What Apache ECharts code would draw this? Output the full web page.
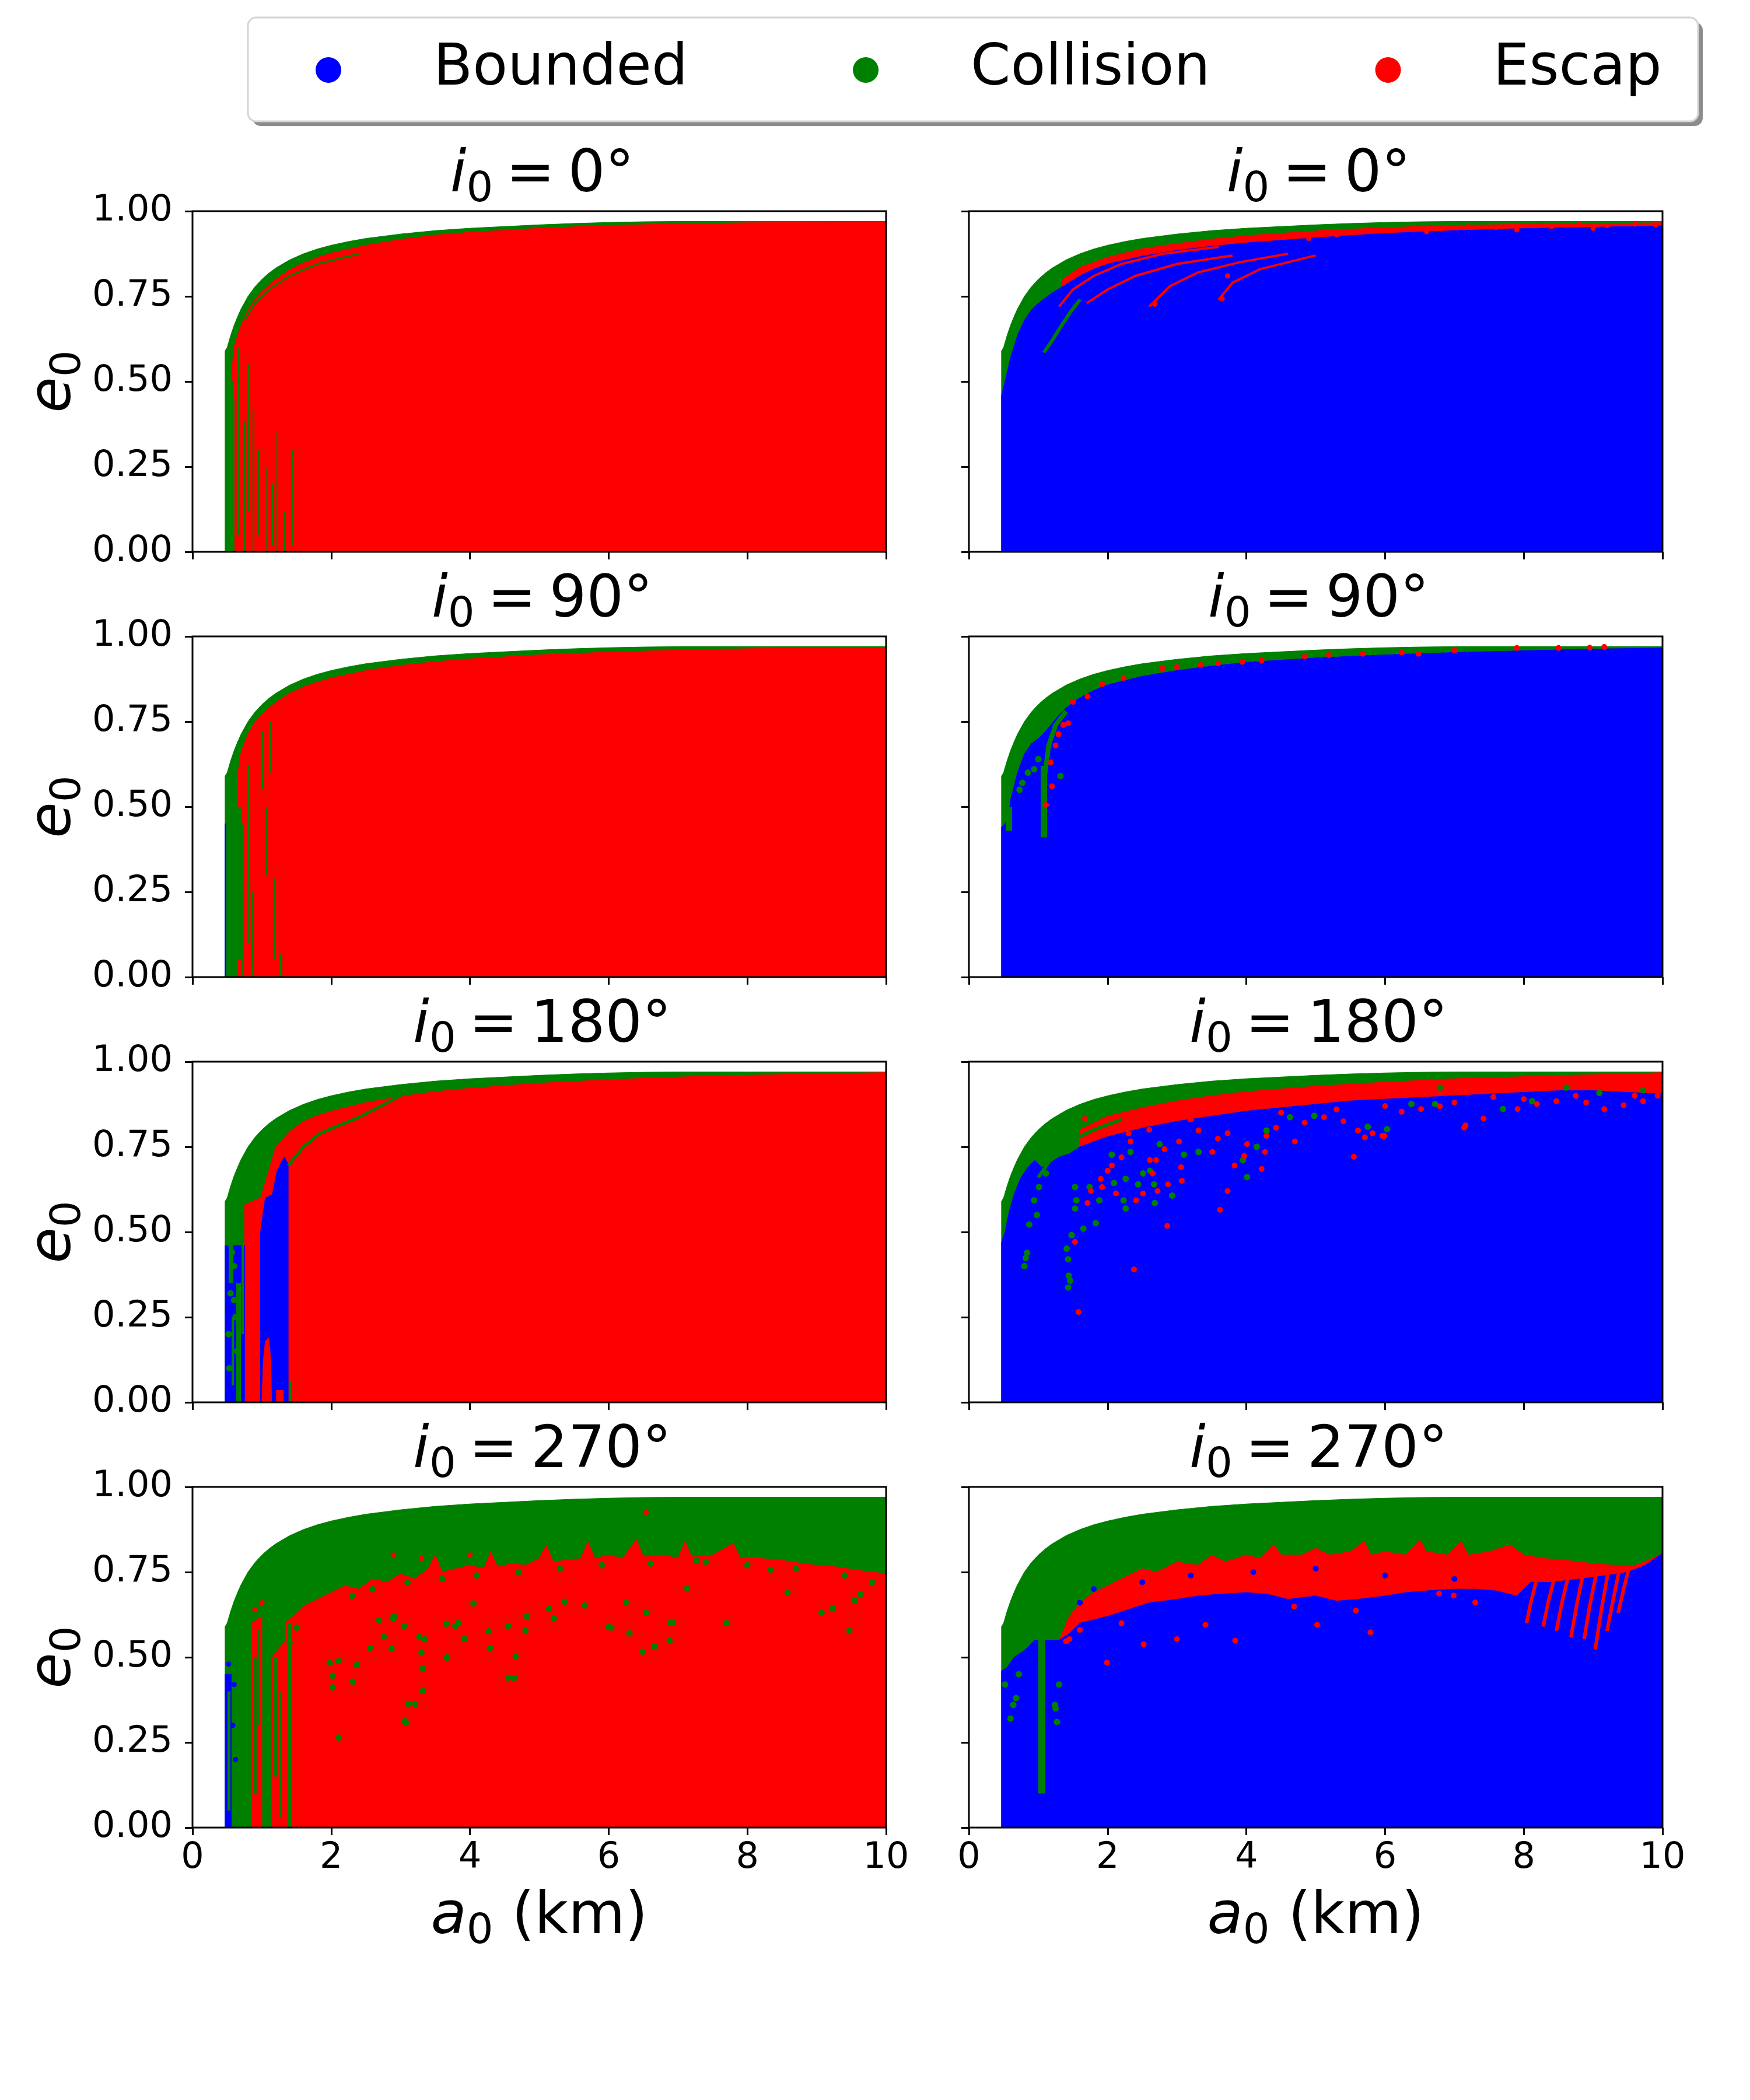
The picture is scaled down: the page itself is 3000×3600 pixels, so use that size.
<!DOCTYPE html>
<html><head><meta charset="utf-8">
<script src="https://cdn.jsdelivr.net/npm/echarts@6/dist/echarts.min.js"></script>
<style>html,body{margin:0;padding:0;background:#fff}#c{width:3000px;height:3600px}</style>
</head><body><div id="c"></div>
<script>
// ---------------- DATA ----------------
const categories = ['Bounded', 'Collision', 'Escap'];
const panelTitles = ['0', '0', '90', '90', '180', '180', '270', '270'];
const xTicks = [0, 2, 4, 6, 8, 10];
const yTicks = [0, 0.25, 0.5, 0.75, 1.0];

// outer limit of the sampled domain (upper edge of every panel)
const envelope = [[0.47,0],[0.47,0.59],[0.5,0.60],[0.55,0.635],[0.6,0.665],[0.65,0.69],[0.7,0.713],[0.8,0.75],[0.9,0.778],[1.0,0.80],[1.1,0.818],[1.2,0.833],[1.4,0.857],[1.6,0.875],[1.8,0.889],[2.0,0.90],[2.25,0.911],[2.5,0.92],[3.0,0.933],[3.5,0.943],[4.0,0.95],[4.5,0.955],[5.0,0.96],[5.5,0.964],[6.0,0.967],[6.5,0.969],[7,0.97],[8,0.97],[9,0.97],[10,0.97],[10,0]];

// ---- i0 = 0, left ----
const p0Escape = [[0.56,0],[0.56,0.52],[0.6,0.6],[0.65,0.635],[0.7,0.665],[0.8,0.71],[0.9,0.74],[1.0,0.765],[1.2,0.8],[1.4,0.828],[1.6,0.848],[1.8,0.864],[2.0,0.877],[2.5,0.9],[3.0,0.917],[3.5,0.93],[4.0,0.938],[5.0,0.95],[6.0,0.958],[7.0,0.963],[8.0,0.966],[10,0.968],[10,0]];
const p0CollisionStripes = [[0.58,0,0.5],[0.62,0,0.45],[0.67,0.05,0.6],[0.74,0,0.38],[0.8,0.12,0.55],[0.88,0,0.42],[0.95,0.05,0.3],[1.05,0,0.25],[1.15,0.02,0.2],[1.22,0,0.35],[1.32,0,0.12],[1.45,0.02,0.3]];
const p0CollisionStreaks = [[[0.75,0.68],[0.9,0.73],[1.1,0.77],[1.4,0.81],[1.8,0.845],[2.4,0.875]]];

// ---- i0 = 0, right ----
const p1Escape = [[1.35,0],[1.35,0.80],[1.6,0.835],[2,0.865],[2.5,0.89],[3,0.905],[3.5,0.918],[4,0.928],[5,0.942],[6,0.952],[7,0.958],[8,0.962],[9,0.964],[10,0.966],[10,0]];
const p1Bounded = [[0.47,0],[0.47,0.46],[0.52,0.5],[0.6,0.57],[0.7,0.635],[0.8,0.68],[0.9,0.71],[1.0,0.73],[1.2,0.76],[1.4,0.785],[1.6,0.81],[1.8,0.83],[2.0,0.845],[2.5,0.868],[3,0.885],[3.5,0.897],[4,0.907],[5,0.922],[6,0.935],[7,0.943],[8,0.949],[9,0.953],[10,0.957],[10,0]];
const p1EscapeStreaks = [
  [[1.3,0.72],[1.5,0.77],[1.8,0.81],[2.2,0.845],[2.8,0.875],[3.6,0.895]],
  [[1.7,0.73],[2.0,0.77],[2.4,0.81],[3.0,0.845],[3.8,0.87]],
  [[2.6,0.72],[2.9,0.78],[3.3,0.82],[3.9,0.85],[4.6,0.875]],
  [[3.6,0.74],[3.8,0.79],[4.2,0.83],[5.0,0.87]]];
const p1EscapeDots = [[2.68,0.727],[3.65,0.743],[3.73,0.81],[4.2,0.925],[4.6,0.93],[5.1,0.94],[5.5,0.938],[5.9,0.945],[6.4,0.95],[6.8,0.948],[7.2,0.955],[7.6,0.953],[8.0,0.958],[8.4,0.955],[8.8,0.96],[9.2,0.958],[9.6,0.962],[9.9,0.96],[6.6,0.94],[5.3,0.93],[4.9,0.92],[7.9,0.945],[9.0,0.95]];
const p1CollisionStreaks = [[[1.08,0.585],[1.2,0.62],[1.29,0.65],[1.45,0.70],[1.6,0.74]]];

// ---- i0 = 90, left ----
const p2Escape = [[0.62,0],[0.62,0.55],[0.7,0.66],[0.8,0.715],[0.9,0.748],[1.0,0.772],[1.2,0.807],[1.4,0.833],[1.6,0.852],[1.8,0.866],[2,0.878],[2.5,0.9],[3,0.915],[3.5,0.926],[4,0.934],[5,0.946],[6,0.954],[7,0.96],[8,0.964],[9,0.967],[10,0.968],[10,0]];
const p2Bounded = [[0.47,0],[0.47,0.45],[0.57,0.45],[0.57,0]];
const p2CollisionThick = [[0.53,0,0.55],[0.6,0,0.6],[0.66,0.05,0.5]];
const p2CollisionStripes = [[0.72,0,0.45],[0.8,0.1,0.62],[0.86,0,0.25],[1.07,0.3,0.5],[1.0,0.55,0.72],[1.18,0.05,0.29],[1.28,0,0.07],[1.12,0.6,0.75]];

// ---- i0 = 90, right ----
const p3Bounded = [[0.47,0],[0.47,0.44],[0.52,0.45],[0.57,0.47],[0.6,0.52],[0.7,0.6],[0.8,0.655],[0.9,0.685],[1.0,0.7],[1.1,0.72],[1.2,0.745],[1.3,0.77],[1.4,0.79],[1.6,0.82],[1.8,0.842],[2.0,0.858],[2.5,0.883],[3,0.9],[3.5,0.913],[4,0.924],[5,0.937],[6,0.946],[7,0.953],[8,0.958],[9,0.963],[10,0.966],[10,0]];
const p3CollisionThick = [[1.08,0.41,0.62],[0.57,0.43,0.5]];
const p3CollisionStreaks = [[[1.1,0.6],[1.15,0.68],[1.25,0.74],[1.4,0.78]]];
const p3EscapeDots = [[4.22,0.929],[4.84,0.941],[5.19,0.945],[5.68,0.949],[6.24,0.953],[6.48,0.949],[7.0,0.959],[7.9,0.966],[8.5,0.966],[8.95,0.967],[9.16,0.969],[3.34,0.917],[3.59,0.921],[3.94,0.925],[2.79,0.906],[3.0,0.91],[2.23,0.878],[1.92,0.86],[1.71,0.824],[1.5,0.808],[1.43,0.745],[1.29,0.713],[1.18,0.63],[1.11,0.505],[1.25,0.68],[1.36,0.74],[1.2,0.56]];
const p3CollisionDots = [[0.94,0.61],[0.77,0.57],[0.73,0.55],[1.32,0.59],[0.85,0.6],[1.0,0.64]];

// ---- i0 = 180, left ----
const p4Escape = [[0.75,0],[0.75,0.58],[0.98,0.6],[1.1,0.68],[1.2,0.75],[1.4,0.795],[1.6,0.825],[1.8,0.842],[2,0.855],[2.5,0.88],[3,0.898],[3.5,0.912],[4,0.922],[5,0.937],[6,0.947],[7,0.955],[8,0.96],[9,0.965],[10,0.968],[10,0]];
const p4BoundedLeft = [[0.47,0],[0.47,0.46],[0.75,0.46],[0.75,0]];
const p4BoundedColumn = [[0.98,0],[0.98,0.5],[1.05,0.6],[1.15,0.61],[1.22,0.68],[1.32,0.72],[1.38,0.7],[1.38,0]];
const p4EscapeTooth = [[1.0,0],[1.02,0.12],[1.05,0.18],[1.1,0.19],[1.13,0.12],[1.14,0]];
const p4EscapeFoot = [[1.21,0],[1.21,0.035],[1.31,0.035],[1.31,0]];
const p4CollisionThick = [[0.66,0,0.35],[0.55,0.35,0.55]];
const p4CollisionStripes = [[0.72,0.2,0.5],[0.58,0.05,0.25],[1.4,0,0.06],[0.5,0.46,0.56]];
const p4CollisionStreaks = [[[1.38,0.695],[1.6,0.75],[1.84,0.79],[2.4,0.837],[3.0,0.9]]];
const p4CollisionDots = [[0.55,0.32],[0.6,0.3],[0.62,0.25],[0.6,0.4],[0.57,0.44],[0.52,0.2],[0.64,0.15],[0.53,0.1]];

// ---- i0 = 180, right ----
const p5Escape = [[1.6,0],[1.6,0.80],[2,0.84],[2.5,0.865],[3,0.885],[3.5,0.9],[4,0.912],[5,0.928],[6,0.94],[7,0.95],[8,0.956],[9,0.962],[10,0.968],[10,0]];
const p5Bounded = [[0.47,0],[0.47,0.47],[0.52,0.5],[0.58,0.56],[0.65,0.61],[0.75,0.66],[0.85,0.69],[0.95,0.71],[1.05,0.69],[1.15,0.7],[1.3,0.72],[1.45,0.73],[1.6,0.75],[1.8,0.765],[2,0.78],[2.5,0.805],[3,0.825],[3.5,0.84],[4,0.855],[4.5,0.865],[5,0.875],[5.5,0.885],[6,0.89],[6.5,0.895],[7,0.9],[7.5,0.905],[8,0.91],[8.5,0.915],[9,0.915],[9.5,0.91],[10,0.905],[10,0]];
const p5EscapeDots = [[1.67,0.833],[1.92,0.825],[2.13,0.798],[2.33,0.766],[2.61,0.711],[2.82,0.743],[3.03,0.766],[3.31,0.798],[3.59,0.774],[3.73,0.79],[4.01,0.758],[4.29,0.782],[4.43,0.806],[4.70,0.766],[4.84,0.821],[5.12,0.837],[5.40,0.825],[5.61,0.798],[5.82,0.79],[5.99,0.782],[6.24,0.853],[6.52,0.861],[6.79,0.869],[7.14,0.806],[7.42,0.833],[7.56,0.896],[7.91,0.861],[8.19,0.876],[8.47,0.884],[8.75,0.9],[9.16,0.861],[9.44,0.872],[9.72,0.884],[9.93,0.9],[1.58,0.265],[2.38,0.39],[2.86,0.518],[3.62,0.565],[3.73,0.62],[3.83,0.695],[4.22,0.685],[3.97,0.723],[4.27,0.735],[5.55,0.721],[3.07,0.65],[2.87,0.64],[2.72,0.62],[2.51,0.613],[2.41,0.593],[2.12,0.613],[1.92,0.632],[1.76,0.62],[1.71,0.585],[1.53,0.471],[1.90,0.656],[3.06,0.69],[3.51,0.735],[2.70,0.711],[2.20,0.719],[2.06,0.695],[2.0,0.68],[2.65,0.672],[5.71,0.778],[5.96,0.782],[7.16,0.813],[4.5,0.85],[5.3,0.86],[6.0,0.87],[7.0,0.88],[8.0,0.89],[8.9,0.88],[9.6,0.9],[3.2,0.83],[2.6,0.8],[2.3,0.79]];
const p5CollisionDots = [[0.80,0.4],[0.82,0.424],[0.84,0.439],[0.87,0.522],[0.94,0.593],[0.98,0.55],[1.01,0.632],[1.11,0.672],[1.43,0.337],[1.46,0.357],[1.44,0.372],[1.43,0.42],[1.41,0.451],[1.48,0.491],[1.53,0.569],[1.55,0.593],[1.65,0.51],[1.83,0.526],[1.53,0.632],[1.74,0.632],[1.88,0.593],[2.09,0.644],[2.26,0.569],[2.23,0.593],[2.44,0.64],[2.68,0.585],[2.93,0.607],[2.67,0.64],[2.61,0.68],[2.26,0.656],[2.51,0.672],[4.01,0.661],[3.95,0.711],[2.06,0.727],[2.33,0.735],[2.75,0.758],[3.10,0.727],[3.31,0.735],[4.15,0.75],[4.29,0.798],[4.63,0.837],[4.98,0.841],[5.75,0.809],[6.03,0.802],[6.38,0.876],[6.72,0.876],[7.70,0.861],[8.12,0.884],[8.61,0.924],[9.09,0.908],[9.72,0.916],[6.79,0.924]];
const p5CollisionStreaks = [[[1.0,0.66],[1.2,0.72],[1.5,0.77],[1.8,0.8],[2.2,0.83]]];

// ---- i0 = 270, left ----
const p6Escape = [[1.34,0],[1.34,0.6],[1.45,0.62],[1.6,0.65],[1.8,0.67],[2.0,0.69],[2.2,0.71],[2.4,0.7],[2.6,0.73],[2.8,0.72],[3.0,0.745],[3.2,0.73],[3.4,0.76],[3.5,0.8],[3.6,0.75],[3.8,0.76],[4.0,0.77],[4.2,0.76],[4.3,0.81],[4.4,0.765],[4.6,0.775],[4.8,0.77],[5.0,0.79],[5.1,0.83],[5.2,0.78],[5.4,0.785],[5.6,0.79],[5.7,0.84],[5.8,0.79],[6.0,0.8],[6.2,0.79],[6.4,0.845],[6.5,0.795],[6.8,0.8],[7.0,0.79],[7.1,0.84],[7.2,0.795],[7.5,0.8],[7.8,0.835],[7.9,0.79],[8.2,0.79],[8.5,0.785],[8.8,0.775],[9.0,0.77],[9.3,0.765],[9.6,0.755],[10,0.745],[10,0]];
const p6EscapeColA = [[0.85,0],[0.85,0.6],[1.0,0.62],[1.0,0]];
const p6EscapeColB = [[1.15,0],[1.15,0.5],[1.34,0.55],[1.34,0]];
const p6Bounded = [[0.47,0],[0.47,0.45],[0.56,0.45],[0.56,0]];
const p6CollisionThick = [[1.06,0.07,0.62],[0.62,0,0.55]];
const p6CollisionStripes = [[1.2,0.15,0.5],[1.26,0.03,0.4],[1.4,0,0.6],[0.72,0.05,0.6],[0.78,0,0.55],[0.9,0.1,0.5],[0.95,0.3,0.58],[0.52,0.05,0.4]];
const p6CollisionDots = [[1.98,0.483],[2.02,0.445],[2.11,0.264],[2.02,0.412],[2.31,0.428],[2.37,0.478],[2.56,0.527],[2.87,0.524],[2.76,0.56],[2.91,0.62],[3.05,0.592],[3.08,0.308],[3.21,0.363],[3.32,0.401],[3.32,0.467],[3.30,0.513],[3.27,0.56],[3.67,0.5],[3.66,0.598],[3.79,0.592],[3.92,0.554],[4.05,0.658],[4.27,0.576],[4.29,0.527],[4.55,0.44],[4.55,0.592],[4.66,0.502],[4.82,0.62],[5.14,0.642],[5.21,0.614],[5.37,0.663],[5.66,0.652],[6.04,0.587],[6.30,0.57],[6.49,0.516],[6.66,0.532],[6.88,0.549],[6.92,0.603],[7.13,0.702],[7.27,0.784],[2.69,0.609],[2.89,0.614],[2.11,0.489],[1.5,0.587],[1.4,0.543],[9.07,0.631],[9.23,0.643],[9.55,0.667],[9.63,0.685],[9.47,0.577],[8.58,0.691],[8.34,0.757],[7.70,0.601],[6.89,0.601],[6.54,0.631],[6.25,0.661],[6.0,0.589],[4.8,0.577],[3.83,0.601],[4.64,0.439],[3.67,0.499],[3.35,0.553],[3.11,0.363],[3.06,0.313],[2.3,0.68],[2.6,0.7],[3.1,0.72],[3.6,0.73],[4.1,0.74],[4.7,0.75],[5.3,0.76],[5.9,0.77],[6.6,0.775],[7.4,0.78],[8.0,0.77],[8.7,0.76],[9.4,0.74],[9.8,0.72]];
const p6EscapeDots = [[6.54,0.925],[2.9,0.8],[3.3,0.79],[4.0,0.8],[1.0,0.66],[0.9,0.64]];
const p6BoundedDots = [[0.58,0.3],[0.6,0.42],[0.62,0.2],[0.52,0.48]];

// ---- i0 = 270, right ----
const p7Escape = [[1.3,0],[1.3,0.55],[1.45,0.62],[1.6,0.66],[1.8,0.69],[2.0,0.71],[2.3,0.74],[2.5,0.76],[2.7,0.75],[3.0,0.78],[3.3,0.77],[3.5,0.8],[3.7,0.78],[4.0,0.8],[4.2,0.79],[4.4,0.83],[4.5,0.8],[4.8,0.8],[5.0,0.82],[5.2,0.8],[5.5,0.81],[5.7,0.84],[5.8,0.8],[6.0,0.81],[6.3,0.8],[6.5,0.845],[6.6,0.81],[6.9,0.8],[7.1,0.84],[7.2,0.8],[7.5,0.81],[7.8,0.83],[8.0,0.8],[8.3,0.79],[8.6,0.785],[9.0,0.775],[9.3,0.77],[9.6,0.77],[9.8,0.785],[10,0.805],[10,0]];
const p7Bounded = [[0.47,0],[0.47,0.46],[0.55,0.47],[0.65,0.5],[0.8,0.52],[0.95,0.55],[1.1,0.55],[1.3,0.55],[1.45,0.57],[1.6,0.6],[1.8,0.61],[2.0,0.62],[2.3,0.64],[2.6,0.66],[3.0,0.67],[3.3,0.68],[3.6,0.685],[4.0,0.69],[4.3,0.685],[4.6,0.67],[5.0,0.68],[5.3,0.665],[5.6,0.67],[6.0,0.68],[6.3,0.69],[6.6,0.695],[7.0,0.7],[7.3,0.7],[7.6,0.695],[7.9,0.68],[8.1,0.72],[8.4,0.72],[8.8,0.73],[9.2,0.74],[9.5,0.75],[9.75,0.77],[10,0.805],[10,0]];
const p7EscapeStreaks = [
  [[8.04,0.6],[8.1,0.66],[8.2,0.74]], [[8.28,0.59],[8.35,0.66],[8.45,0.74]], [[8.47,0.577],[8.55,0.66],[8.65,0.745]],
  [[8.68,0.559],[8.76,0.65],[8.86,0.75]], [[8.87,0.553],[8.95,0.65],[9.05,0.75]], [[9.03,0.523],[9.12,0.64],[9.22,0.755]],
  [[9.2,0.577],[9.28,0.66],[9.38,0.76]], [[9.36,0.63],[9.44,0.7],[9.52,0.765]]];
const p7EscapeDots = [[1.99,0.484],[2.52,0.538],[3.0,0.553],[3.41,0.595],[3.84,0.549],[5.02,0.595],[5.79,0.573],[5.58,0.637],[6.78,0.687],[6.99,0.681],[7.3,0.661],[4.69,0.649],[1.45,0.553],[1.4,0.547],[2.2,0.6],[1.6,0.58]];
const p7CollisionThick = [[1.05,0.1,0.6]];
const p7CollisionDots = [[0.6,0.32],[0.68,0.38],[0.72,0.45],[1.25,0.35],[1.3,0.42],[0.55,0.5],[0.64,0.36],[1.24,0.36],[1.27,0.31],[0.52,0.42]];
const p7BoundedDots = [[1.8,0.7],[2.5,0.72],[3.2,0.74],[5.0,0.76],[6.0,0.74],[4.1,0.75],[7.0,0.73],[1.6,0.66]];

// ---------------- CHART ----------------
const FONT = 'DejaVu Sans';
const COLOR = {Bounded: '#0000ff', Collision: '#008000', Escap: '#ff0000'};
const gridLefts = [330, 1661];
const gridTops = [362, 1091, 1820, 2549];
const GW = 1189, GH = 584;

const series = [];
function addArea(g, name, data, z) {
  series.push({type: 'line', name, xAxisIndex: g, yAxisIndex: g, data, symbol: 'none', showSymbol: false,
    lineStyle: {width: 1, color: COLOR[name]}, itemStyle: {color: COLOR[name]},
    areaStyle: {color: COLOR[name], opacity: 1}, silent: true, animation: false, z});
}
function addStripes(g, name, data, w) {
  series.push({type: 'lines', name, coordinateSystem: 'cartesian2d', xAxisIndex: g, yAxisIndex: g,
    data: data.map(s => ({coords: [[s[0], s[1]], [s[0], s[2]]]})),
    lineStyle: {width: w, color: COLOR[name], opacity: 1, cap: 'butt'}, itemStyle: {color: COLOR[name]},
    silent: true, animation: false, z: 6});
}
function addStreaks(g, name, data, w) {
  series.push({type: 'lines', name, coordinateSystem: 'cartesian2d', xAxisIndex: g, yAxisIndex: g, polyline: true,
    data: data.map(c => ({coords: c})),
    lineStyle: {width: w, color: COLOR[name], opacity: 1}, itemStyle: {color: COLOR[name]},
    silent: true, animation: false, z: 6});
}
function addDots(g, name, data, size) {
  series.push({type: 'scatter', name, xAxisIndex: g, yAxisIndex: g, data, symbol: 'circle', symbolSize: size,
    itemStyle: {color: COLOR[name], opacity: 1}, silent: true, animation: false, z: 7});
}

for (let g = 0; g < 8; g++) addArea(g, 'Collision', envelope, 1);
// panel 0
addArea(0, 'Escap', p0Escape, 2);
addStripes(0, 'Collision', p0CollisionStripes, 3);
addStreaks(0, 'Collision', p0CollisionStreaks, 3);
// panel 1
addArea(1, 'Escap', p1Escape, 2);
addArea(1, 'Bounded', p1Bounded, 3);
addStreaks(1, 'Escap', p1EscapeStreaks, 4);
addStreaks(1, 'Collision', p1CollisionStreaks, 6);
addDots(1, 'Escap', p1EscapeDots, 9);
// panel 2
addArea(2, 'Escap', p2Escape, 2);
addArea(2, 'Bounded', p2Bounded, 3);
addStripes(2, 'Collision', p2CollisionThick, 10);
addStripes(2, 'Collision', p2CollisionStripes, 4);
// panel 3
addArea(3, 'Bounded', p3Bounded, 3);
addStripes(3, 'Collision', p3CollisionThick, 11);
addStreaks(3, 'Collision', p3CollisionStreaks, 8);
addDots(3, 'Collision', p3CollisionDots, 11);
addDots(3, 'Escap', p3EscapeDots, 10);
// panel 4
addArea(4, 'Escap', p4Escape, 2);
addArea(4, 'Bounded', p4BoundedLeft, 3);
addArea(4, 'Bounded', p4BoundedColumn, 3);
addArea(4, 'Escap', p4EscapeTooth, 4);
addArea(4, 'Escap', p4EscapeFoot, 4);
addStripes(4, 'Collision', p4CollisionThick, 8);
addStripes(4, 'Collision', p4CollisionStripes, 4);
addStreaks(4, 'Collision', p4CollisionStreaks, 5);
addDots(4, 'Collision', p4CollisionDots, 11);
// panel 5
addArea(5, 'Escap', p5Escape, 2);
addArea(5, 'Bounded', p5Bounded, 3);
addStreaks(5, 'Collision', p5CollisionStreaks, 6);
addDots(5, 'Collision', p5CollisionDots, 11);
addDots(5, 'Escap', p5EscapeDots, 10);
// panel 6
addArea(6, 'Escap', p6Escape, 2);
addArea(6, 'Escap', p6EscapeColA, 2);
addArea(6, 'Escap', p6EscapeColB, 2);
addArea(6, 'Bounded', p6Bounded, 3);
addStripes(6, 'Collision', p6CollisionThick, 12);
addStripes(6, 'Collision', p6CollisionStripes, 5);
addDots(6, 'Collision', p6CollisionDots, 11);
addDots(6, 'Escap', p6EscapeDots, 9);
addDots(6, 'Bounded', p6BoundedDots, 9);
// panel 7
addArea(7, 'Escap', p7Escape, 2);
addArea(7, 'Bounded', p7Bounded, 3);
addStreaks(7, 'Escap', p7EscapeStreaks, 6);
addStripes(7, 'Collision', p7CollisionThick, 12);
addDots(7, 'Collision', p7CollisionDots, 11);
addDots(7, 'Escap', p7EscapeDots, 10);
addDots(7, 'Bounded', p7BoundedDots, 10);

const grids = [], xAxes = [], yAxes = [], titles = [];
const richMath = (size) => ({
  i: {fontFamily: FONT, fontStyle: 'italic', fontWeight: 'normal', fontSize: size, lineHeight: size * 1.2, color: '#000'},
  s: {fontFamily: FONT, fontWeight: 'normal', fontSize: size * 0.72, lineHeight: size * 0.64, verticalAlign: 'bottom', color: '#000'},
  sp: {fontFamily: FONT, fontWeight: 'normal', fontSize: size * 0.7, lineHeight: size * 1.2, color: '#000'},
  n: {fontFamily: FONT, fontWeight: 'normal', fontSize: size, lineHeight: size * 1.2, color: '#000'}
});
for (let g = 0; g < 8; g++) {
  const row = Math.floor(g / 2), col = g % 2;
  grids.push({left: gridLefts[col], top: gridTops[row], width: GW, height: GH, show: true,
    borderColor: '#000', borderWidth: 3, backgroundColor: 'rgba(0,0,0,0)', z: 10, containLabel: false});
  xAxes.push({type: 'value', gridIndex: g, min: xTicks[0], max: xTicks[xTicks.length - 1], interval: 2,
    axisLine: {show: false}, splitLine: {show: false},
    axisTick: {show: true, length: 13, lineStyle: {width: 3, color: '#000'}},
    axisLabel: {show: row === 3, fontFamily: FONT, fontSize: 62, color: '#000', margin: 22},
    name: row === 3 ? '{i|a}{s|0}{n| (km)}' : '', nameLocation: 'middle', nameGap: 95,
    nameTextStyle: {fontWeight: 'normal', rich: richMath(100)}, z: 10});
  yAxes.push({type: 'value', gridIndex: g, min: yTicks[0], max: yTicks[yTicks.length - 1], interval: 0.25,
    axisLine: {show: false}, splitLine: {show: false},
    axisTick: {show: true, length: 13, lineStyle: {width: 3, color: '#000'}},
    axisLabel: {show: col === 0, fontFamily: FONT, fontSize: 62, color: '#000', margin: 34,
      formatter: v => v.toFixed(2)},
    name: col === 0 ? '{i|e}{s|0}' : '', nameLocation: 'middle', nameGap: 150,
    nameTextStyle: {fontWeight: 'normal', rich: richMath(100)}, z: 10});
  titles.push({left: gridLefts[col] + GW / 2, top: gridTops[row] - 125, textAlign: 'center',
    text: '{i|i}{s|0}{sp| }{n|=}{sp| }{n|' + panelTitles[g] + '°}',
    textStyle: {fontWeight: 'normal', fontFamily: FONT, fontSize: 100, rich: richMath(100)}});
}

const chart = echarts.init(document.getElementById('c'), null, {renderer: 'canvas'});
chart.setOption({
  animation: false,
  backgroundColor: '#fff',
  title: titles,
  grid: grids, xAxis: xAxes, yAxis: yAxes,
  legend: {data: categories, left: 541, top: 65, icon: 'circle', itemWidth: 44, itemHeight: 44, itemGap: 283,
    padding: 0, selectedMode: false, z: 20,
    textStyle: {fontFamily: FONT, fontSize: 98, color: '#000', padding: [0, 0, 0, 153], lineHeight: 110}},
  graphic: [
    {type: 'rect', z: 15, shape: {x: 433, y: 38, width: 2486, height: 178, r: 14}, style: {fill: '#8c8c8c'}},
    {type: 'rect', z: 16, shape: {x: 425, y: 30, width: 2486, height: 178, r: 14}, style: {fill: '#fff', stroke: '#d4d4d4', lineWidth: 3}}
  ],
  series
});
</script></body></html>
